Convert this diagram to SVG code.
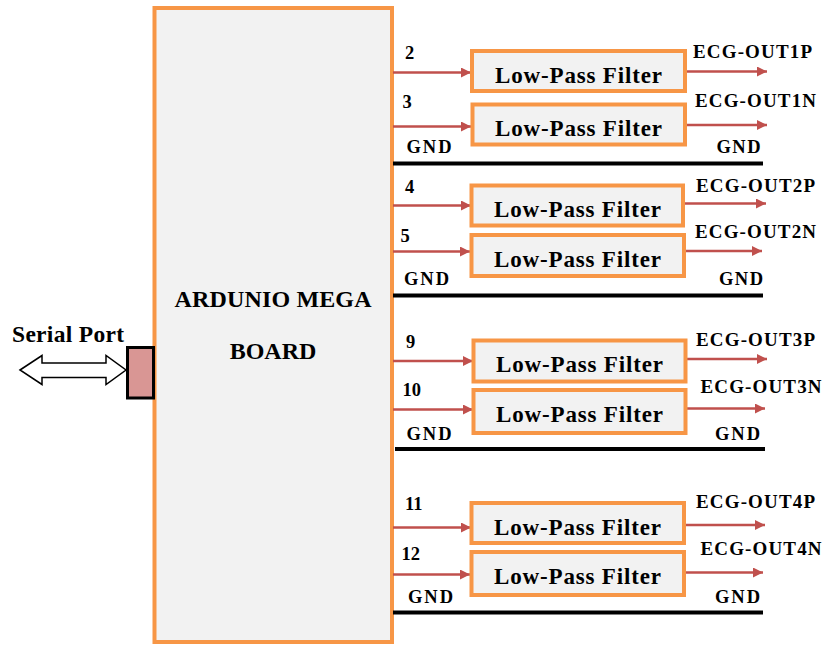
<svg xmlns="http://www.w3.org/2000/svg" width="823" height="646" viewBox="0 0 823 646" font-family="Liberation Serif, Times New Roman, serif" font-weight="bold">
<defs>
<marker id="ah" viewBox="0 0 10 10" refX="10" refY="5" markerWidth="10" markerHeight="10" markerUnits="userSpaceOnUse" orient="auto">
<path d="M0,0 L10,5 L0,10 Z" fill="#c0504d"/>
</marker>
</defs>
<style>
.box{fill:#f2f2f2;stroke:#f79646;stroke-width:4}
.lbl{font-size:23px}
.pin{font-size:18.5px}
.out{font-size:19px}
.gnd{font-size:18.5px}
.arr{stroke:#c0504d;stroke-width:2.5;fill:none;marker-end:url(#ah)}
.bus{stroke:#000;stroke-width:4}
</style>
<rect width="823" height="646" fill="#fff"/>

<g id="board">
<rect x="154.5" y="8" width="237.5" height="634" class="box"/>
<text x="273" y="306.5" font-size="24" text-anchor="middle" textLength="197">ARDUNIO MEGA</text>
<text x="273" y="358.5" font-size="24" text-anchor="middle">BOARD</text>
</g>

<g id="serial">
<text x="12" y="342" font-size="23.5" textLength="112">Serial Port</text>
<polygon points="20,370 42,355.5 42,363 106,363 106,355.5 126,370 106,384.5 106,377.5 42,377.5 42,384.5" fill="#fff" stroke="#000" stroke-width="1.5"/>
<rect x="127.5" y="347.5" width="26" height="50.5" fill="#d99694" stroke="#000" stroke-width="3"/>
</g>

<g id="connectors">
<line x1="393" y1="72.5" x2="471" y2="72.5" class="arr"/>
<line x1="393" y1="126.5" x2="471" y2="126.5" class="arr"/>
<line x1="687" y1="71.5" x2="767" y2="71.5" class="arr"/>
<line x1="687" y1="125" x2="767" y2="125" class="arr"/>
<line x1="393" y1="163.5" x2="763" y2="163.5" class="bus"/>

<line x1="393" y1="205.5" x2="471" y2="205.5" class="arr"/>
<line x1="393" y1="251.5" x2="470" y2="251.5" class="arr"/>
<line x1="685" y1="203.5" x2="766" y2="203.5" class="arr"/>
<line x1="686" y1="251" x2="762" y2="251" class="arr"/>
<line x1="393" y1="295.5" x2="763" y2="295.5" class="bus"/>

<line x1="393" y1="361" x2="473" y2="361" class="arr"/>
<line x1="393" y1="409.5" x2="473" y2="409.5" class="arr"/>
<line x1="687" y1="359" x2="767" y2="359" class="arr"/>
<line x1="687" y1="408.5" x2="765" y2="408.5" class="arr"/>
<line x1="395" y1="449" x2="765" y2="449" class="bus"/>

<line x1="393" y1="527.5" x2="471" y2="527.5" class="arr"/>
<line x1="393" y1="574.5" x2="470" y2="574.5" class="arr"/>
<line x1="686" y1="525" x2="765" y2="525" class="arr"/>
<line x1="686" y1="572.5" x2="763" y2="572.5" class="arr"/>
<line x1="393" y1="612.5" x2="763" y2="612.5" class="bus"/>
</g>

<g id="group1">
<text x="405" y="59" class="pin">2</text>
<text x="402.5" y="108" class="pin">3</text>
<text x="406.5" y="153" class="gnd" textLength="45">GND</text>
<text x="716.5" y="153" class="gnd" textLength="44">GND</text>
<text x="693" y="58" class="out" textLength="119">ECG-OUT1P</text>
<text x="695" y="106.5" class="out" textLength="121">ECG-OUT1N</text>
</g>
<g id="lpf1"><rect x="472" y="51" width="213" height="40" class="box"/><text x="495" y="82.5" class="lbl" textLength="167">Low-Pass Filter</text></g>
<g id="lpf2"><rect x="472.5" y="104.5" width="212.5" height="40" class="box"/><text x="495" y="135.5" class="lbl" textLength="167">Low-Pass Filter</text></g>

<g id="group2">
<text x="405" y="193" class="pin">4</text>
<text x="400.5" y="241.5" class="pin">5</text>
<text x="404" y="285" class="gnd" textLength="45">GND</text>
<text x="719" y="285" class="gnd" textLength="44">GND</text>
<text x="696" y="191.5" class="out" textLength="119">ECG-OUT2P</text>
<text x="695" y="238" class="out" textLength="121">ECG-OUT2N</text>
</g>
<g id="lpf3"><rect x="471.5" y="185.5" width="211.5" height="40" class="box"/><text x="494" y="216.5" class="lbl" textLength="167">Low-Pass Filter</text></g>
<g id="lpf4"><rect x="471.5" y="235" width="212.5" height="41" class="box"/><text x="494" y="266.5" class="lbl" textLength="167">Low-Pass Filter</text></g>

<g id="group3">
<text x="406" y="348" class="pin">9</text>
<text x="402.5" y="396" class="pin">10</text>
<text x="406.5" y="440" class="gnd" textLength="45">GND</text>
<text x="715" y="440" class="gnd" textLength="45">GND</text>
<text x="696" y="346" class="out" textLength="119">ECG-OUT3P</text>
<text x="700.5" y="393" class="out" textLength="121">ECG-OUT3N</text>
</g>
<g id="lpf5"><rect x="473.5" y="340.5" width="212" height="41" class="box"/><text x="496" y="372" class="lbl" textLength="167">Low-Pass Filter</text></g>
<g id="lpf6"><rect x="473.5" y="390" width="212" height="43" class="box"/><text x="496" y="421.5" class="lbl" textLength="167">Low-Pass Filter</text></g>

<g id="group4">
<text x="405" y="510" class="pin">11</text>
<text x="401.5" y="560" class="pin">12</text>
<text x="408" y="602.5" class="gnd" textLength="45">GND</text>
<text x="715" y="602.5" class="gnd" textLength="45">GND</text>
<text x="696" y="508" class="out" textLength="119">ECG-OUT4P</text>
<text x="700.5" y="555" class="out" textLength="121">ECG-OUT4N</text>
</g>
<g id="lpf7"><rect x="471.5" y="503" width="212.5" height="40" class="box"/><text x="494" y="534.5" class="lbl" textLength="167">Low-Pass Filter</text></g>
<g id="lpf8"><rect x="471.5" y="552" width="212.5" height="43" class="box"/><text x="494" y="584" class="lbl" textLength="167">Low-Pass Filter</text></g>
</svg>
